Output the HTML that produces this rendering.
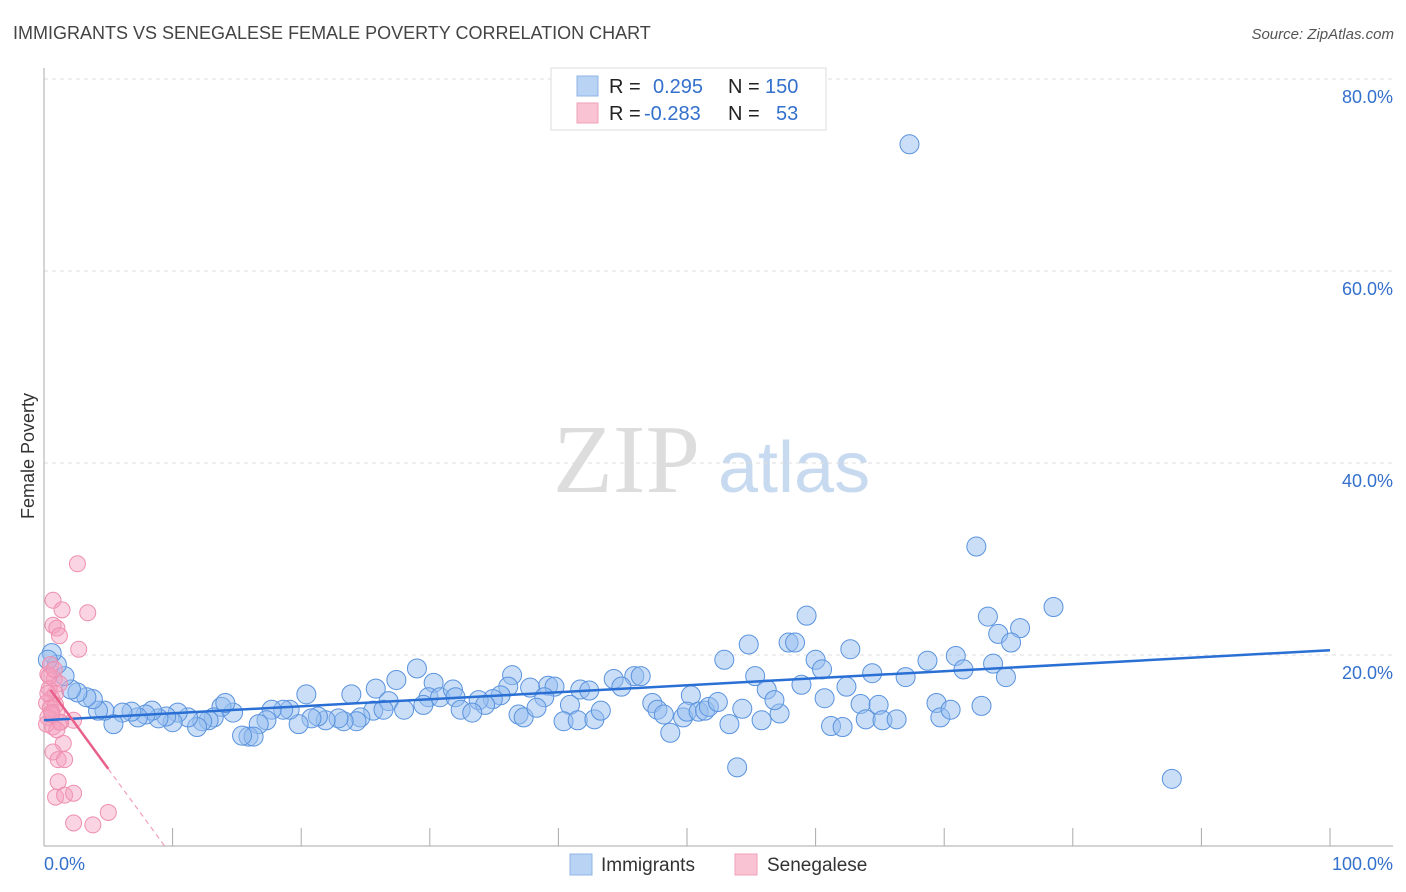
<!DOCTYPE html>
<html><head><meta charset="utf-8"><style>
body{margin:0;background:#fff;font-family:"Liberation Sans",sans-serif;}
#wrap{position:relative;width:1406px;height:892px;overflow:hidden;}
</style></head><body>
<div id="wrap">
<svg id="chart" width="1406" height="892" xmlns="http://www.w3.org/2000/svg">
<text x="13" y="39" font-size="18" fill="#444">IMMIGRANTS VS SENEGALESE FEMALE POVERTY CORRELATION CHART</text>
<text x="1394" y="39" font-size="15" fill="#555" font-style="italic" text-anchor="end">Source: ZipAtlas.com</text>
<text x="34" y="456" font-size="18" fill="#333" text-anchor="middle" transform="rotate(-90 34 456)">Female Poverty</text>
<g>
<text x="553" y="492" font-size="98" font-family="Liberation Serif,serif" fill="#ddd">ZIP</text>
<text x="718" y="492" font-size="72" fill="#c8daf0">atlas</text>
</g>
<g id="grid"></g>
<g id="axes"></g>
<g id="pts"></g>
<g id="trend"></g>
<g>
<rect x="551" y="68" width="275" height="62" fill="#fff" stroke="#ddd"/>
<rect x="577" y="76" width="21" height="20" fill="#b9d3f5" stroke="#8fb4e6"/>
<rect x="577" y="103" width="21" height="20" fill="#f9c3d3" stroke="#f0a0b9"/>
<text x="609" y="93" font-size="20" fill="#222">R = </text><text x="653" y="93" font-size="20" fill="#3370cc">0.295</text>
<text x="728" y="93" font-size="20" fill="#222">N = </text><text x="765" y="93" font-size="20" fill="#3370cc">150</text>
<text x="609" y="120" font-size="20" fill="#222">R = </text><text x="644" y="120" font-size="20" fill="#3370cc">-0.283</text>
<text x="728" y="120" font-size="20" fill="#222">N = </text><text x="776" y="120" font-size="20" fill="#3370cc">53</text>
</g>
<g>
<rect x="570" y="854" width="22" height="21" fill="#b9d3f5" stroke="#8fb4e6"/>
<text x="601" y="871" font-size="19" fill="#333">Immigrants</text>
<rect x="735" y="854" width="22" height="21" fill="#f9c3d3" stroke="#f0a0b9"/>
<text x="767" y="871" font-size="19" fill="#333">Senegalese</text>
</g>
</svg>
</div>
<script>
const yTicks=[20,40,60,80];
const yTickLabels=["20.0%","40.0%","60.0%","80.0%"];
const xTicks=[10,20,30,40,50,60,70,80,90,100];
const xEndLabels=["0.0%","100.0%"];
const immX=[67.3,72.5,78.5,73.4,59.3,75.9,74.2,54.8,57.9,58.4,75.2,62.7,52.9,60.0,68.7,70.9,71.5,73.8,60.5,74.8,67.0,64.4,55.3,58.9,62.4,56.2,50.3,45.9,46.4,44.3,44.9,41.7,42.4,39.2,39.7,37.8,36.4,36.1,38.9,35.5,34.9,33.8,34.3,29.0,27.4,25.8,23.9,20.4,30.3,29.9,30.8,31.8,32.0,26.8,29.5,28.0,32.4,33.3,36.9,37.3,38.3,40.9,40.4,41.5,42.8,43.3,47.3,47.7,48.2,49.7,50.0,48.7,50.9,51.4,51.7,52.4,53.3,54.3,55.8,57.2,56.8,53.9,60.7,61.2,62.1,63.5,63.9,64.9,65.2,66.3,69.4,69.7,70.5,72.9,87.7,25.6,26.4,24.6,24.3,23.3,22.9,21.9,21.3,20.8,19.8,19.1,18.6,17.7,17.3,16.7,15.9,16.3,15.4,14.7,13.8,14.1,13.2,12.8,12.3,11.9,11.2,10.4,10.0,9.5,8.9,8.4,7.9,7.3,6.8,6.1,5.4,4.7,4.2,3.8,3.3,2.6,2.1,1.6,1.0,0.6,0.3];
const immY=[73.2,31.3,25.0,24.0,24.1,22.8,22.2,21.1,21.3,21.3,21.3,20.6,19.5,19.5,19.4,19.9,18.5,19.1,18.5,17.7,17.7,18.1,17.8,16.9,16.7,16.4,15.8,17.8,17.8,17.5,16.7,16.4,16.3,16.8,16.7,16.6,17.9,16.7,15.6,15.8,15.4,15.3,14.8,18.6,17.4,16.5,15.9,15.9,17.1,15.6,15.6,16.4,15.6,15.2,14.8,14.3,14.3,14.0,13.8,13.5,14.5,14.8,13.1,13.2,13.3,14.2,15.0,14.3,13.8,13.5,14.1,11.9,14.1,14.2,14.6,15.1,12.8,14.4,13.2,13.9,15.3,8.3,15.5,12.6,12.5,14.9,13.3,14.8,13.2,13.3,15.0,13.5,14.3,14.7,7.1,14.2,14.3,13.5,13.1,13.1,13.4,13.2,13.6,13.4,12.8,14.3,14.3,14.3,13.2,12.8,11.5,11.5,11.6,14.0,14.6,15.0,13.5,13.2,13.1,12.5,13.5,14.0,13.0,13.6,13.4,14.2,13.8,13.5,14.1,14.0,12.8,14.2,14.2,15.4,15.6,16.1,16.4,17.8,19.0,20.2,19.5];
const senX=[2.6,0.7,1.4,3.4,0.7,1.0,1.2,2.7,2.3,1.5,0.7,1.1,1.6,1.1,0.9,1.6,2.3,2.3,3.8,5.0,0.3,0.5,0.8,1.2,0.4,0.6,0.9,0.2,0.5,1.0,0.3,1.2,0.7,0.4,0.9,0.2,0.6,1.3,0.8,0.3,0.6,1.0];
const senY=[29.5,25.7,24.7,24.4,23.1,22.8,22.0,20.6,13.2,10.8,9.9,9.1,9.1,6.8,5.2,5.4,5.6,2.5,2.3,3.6,18.0,19.0,17.5,17.0,16.5,15.5,16.0,15.0,14.5,14.0,13.5,13.0,12.5,17.8,14.8,12.8,13.8,13.0,18.5,16.0,14.0,12.2];
const immTrend=[13.2,20.5];
const senTrend=[17.3,-166];

const X=v=>44+v*12.86, Y=v=>847-v*9.6;
const NS="http://www.w3.org/2000/svg";
function mk(t,a,p){const e=document.createElementNS(NS,t);for(const k in a)e.setAttribute(k,a[k]);p.appendChild(e);return e;}
const grid=document.getElementById('grid'),axes=document.getElementById('axes'),pts=document.getElementById('pts'),tr=document.getElementById('trend');
yTicks.forEach((v,i)=>{
 const l=mk('line',{x1:44,x2:1393,y1:Y(v),y2:Y(v),stroke:'#ddd','stroke-dasharray':'4,4'},grid);
 
 
 const t=mk('text',{x:1393,y:Y(v)+24,'font-size':18,fill:'#3370cc','text-anchor':'end'},axes);
 t.textContent=yTickLabels[i];
 
 
});
let a=mk('line',{x1:44,x2:44,y1:68,y2:846,stroke:'#aaa'},axes);


a=mk('line',{x1:44,x2:1393,y1:846,y2:846,stroke:'#aaa'},axes);


xTicks.forEach(v=>{const l=mk('line',{x1:X(v),x2:X(v),y1:828,y2:846,stroke:'#aaa'},axes);
 
 });
let t=mk('text',{x:44,y:870,'font-size':18,fill:'#3370cc'},axes);t.textContent=xEndLabels[0];


t=mk('text',{x:1393,y:870,'font-size':18,fill:'#3370cc','text-anchor':'end'},axes);t.textContent=xEndLabels[1];


immX.forEach((v,i)=>{const c=mk('circle',{cx:X(v),cy:Y(immY[i]),r:9.5,fill:'rgba(150,190,240,0.5)',stroke:'#5a93de','stroke-width':1},pts);
 
 });
senX.forEach((v,i)=>{const c=mk('circle',{cx:X(v),cy:Y(senY[i]),r:8,fill:'rgba(245,160,190,0.45)',stroke:'#ee8fae','stroke-width':1},pts);
 
 });
let l=mk('line',{x1:X(0),y1:Y(immTrend[0]),x2:X(100),y2:Y(immTrend[1]),stroke:'#2a6fd4','stroke-width':2.5},tr);


const sy=x=>senTrend[0]+(senTrend[1]-senTrend[0])*x/100;
l=mk('line',{x1:X(0.5),y1:Y(sy(0.5)),x2:X(5),y2:Y(sy(5)),stroke:'#e8608a','stroke-width':2.5},tr);


l=mk('line',{x1:X(5),y1:Y(sy(5)),x2:X(9.4),y2:Y(sy(9.4)),stroke:'#f0a0b9','stroke-width':1.2,'stroke-dasharray':'5,4'},tr);


</script>
</body></html>
